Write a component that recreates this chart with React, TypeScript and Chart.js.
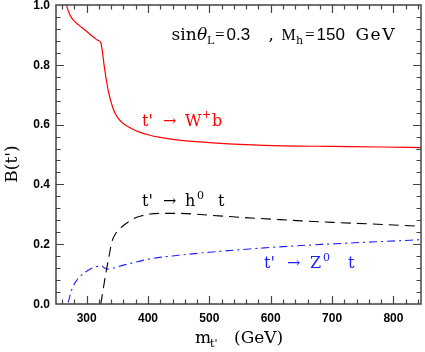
import { useEffect, useRef } from 'react';
import { Chart, registerables } from 'chart.js';

Chart.register(...registerables);

// t' -> W+ b
const massWb = [267, 271, 276, 283, 292, 302, 312, 318, 323, 329, 335, 343, 350, 360, 372, 386, 400, 420, 450, 500, 560, 620, 700, 780, 845];
const brWb = [1.0, 0.975, 0.955, 0.94, 0.925, 0.908, 0.891, 0.882, 0.874, 0.79, 0.715, 0.654, 0.625, 0.603, 0.588, 0.575, 0.566, 0.557, 0.548, 0.54, 0.533, 0.529, 0.527, 0.525, 0.523];

// t' -> h0 t
const massHt = [323, 327, 331, 336, 341, 347, 354, 365, 376, 390, 403, 420, 450, 500, 550, 600, 650, 700, 760, 845];
const brHt = [0.0, 0.05, 0.1, 0.155, 0.207, 0.235, 0.252, 0.27, 0.285, 0.295, 0.301, 0.303, 0.303, 0.297, 0.29, 0.284, 0.278, 0.273, 0.268, 0.26];

// t' -> Z0 t
const massZt = [270, 273, 277, 283, 290, 298, 307, 316, 324, 328, 333, 340, 360, 380, 403, 450, 500, 565, 620, 700, 770, 845];
const brZt = [0.005, 0.03, 0.055, 0.077, 0.094, 0.107, 0.118, 0.125, 0.128, 0.122, 0.117, 0.118, 0.13, 0.14, 0.151, 0.163, 0.173, 0.184, 0.192, 0.201, 0.208, 0.215];

const xTickValues = [300, 400, 500, 600, 700, 800];
const yTickValues = [0, 0.2, 0.4, 0.6, 0.8, 1.0];
const X_MIN = 250;
const X_MAX = 845;
const Y_MIN = 0;
const Y_MAX = 1;
const X_MINOR_STEP = 20;
const Y_MINOR_STEP = 0.04;

const SERIF = '"DejaVu Serif", "Liberation Serif", serif';
const TIMES = '"Liberation Serif", serif';
const SANS = '"Liberation Sans", Arial, sans-serif';

// text pieces placed at explicit offsets (x offset from start, font, dy)
type Piece = { t: string; dx: number; f: string; dy?: number; ls?: string };

function drawPieces(ctx: CanvasRenderingContext2D, pieces: Piece[], x: number, y: number, color: string) {
  ctx.save();
  ctx.fillStyle = color;
  ctx.textBaseline = 'alphabetic';
  ctx.textAlign = 'left';
  for (const p of pieces) {
    ctx.font = p.f;
    (ctx as any).letterSpacing = p.ls || '0px';
    ctx.fillText(p.t, x + p.dx, y + (p.dy || 0));
  }
  (ctx as any).letterSpacing = '0px';
  ctx.restore();
}

const framePlugin = {
  id: 'frameTicks',
  afterDraw(chart: any) {
    const ctx: CanvasRenderingContext2D = chart.ctx;
    const xs = chart.scales.x;
    const ys = chart.scales.y;
    const { left, right, top, bottom } = chart.chartArea;
    ctx.save();
    ctx.strokeStyle = '#444';
    ctx.lineWidth = 1.5;
    ctx.strokeRect(left, top, right - left, bottom - top);

    const MAJ = 8;
    const MIN = 4.5;
    ctx.lineWidth = 1.2;
    ctx.beginPath();
    for (let v = 260; v <= X_MAX; v += X_MINOR_STEP) {
      const px = Math.round(xs.getPixelForValue(v)) + 0.5;
      const len = xTickValues.includes(v) ? MAJ : MIN;
      ctx.moveTo(px, bottom);
      ctx.lineTo(px, bottom - len);
      ctx.moveTo(px, top);
      ctx.lineTo(px, top + len);
    }
    for (let i = 1; i * Y_MINOR_STEP < Y_MAX - 1e-6; i++) {
      const v = i * Y_MINOR_STEP;
      const py = Math.round(ys.getPixelForValue(v)) + 0.5;
      const isMaj = yTickValues.some((t) => Math.abs(t - v) < 1e-6);
      const len = isMaj ? MAJ : MIN;
      ctx.moveTo(left, py);
      ctx.lineTo(left + len, py);
      ctx.moveTo(right, py);
      ctx.lineTo(right - len, py);
    }
    ctx.stroke();

    // tick labels
    ctx.fillStyle = '#000';
    ctx.font = `bold 12px ${SANS}`;
    ctx.textAlign = 'center';
    ctx.textBaseline = 'alphabetic';
    for (const v of xTickValues) {
      ctx.fillText(String(v), xs.getPixelForValue(v), 322);
    }
    ctx.textAlign = 'right';
    ctx.textBaseline = 'middle';
    for (const v of yTickValues) {
      ctx.fillText(v.toFixed(1), 50, ys.getPixelForValue(v) + 0.5);
    }

    // x axis title
    drawPieces(ctx, [
      { t: 'm', dx: 0, f: `17px ${SERIF}` },
      { t: "t'", dx: 15, f: `11px ${SERIF}`, dy: 4 },
      { t: '(GeV)', dx: 39, f: `17px ${SERIF}` },
    ], 195, 343, '#000');

    // y axis title
    ctx.save();
    ctx.translate(17, 164);
    ctx.rotate(-Math.PI / 2);
    ctx.font = `17px ${SERIF}`;
    ctx.textAlign = 'center';
    ctx.textBaseline = 'alphabetic';
    ctx.fillStyle = '#000';
    ctx.fillText("B(t')", 0, 0);
    ctx.restore();

    // header annotation
    const S = `17px ${SERIF}`;
    const T = `17px ${TIMES}`;
    const N = `17px ${SANS}`;
    const sub = `11px ${SERIF}`;
    drawPieces(ctx, [
      { t: 'sin', dx: 0, f: S },
      { t: '\u03B8', dx: 25.5, f: `italic ${S}` },
      { t: 'L', dx: 35.5, f: sub, dy: 4 },
      { t: '=', dx: 43.5, f: T },
      { t: '0.3', dx: 55, f: N },
      { t: ',', dx: 97, f: S },
      { t: 'M', dx: 110, f: `16px ${TIMES}` },
      { t: 'h', dx: 124.5, f: sub, dy: 4 },
      { t: '=', dx: 133.5, f: T },
      { t: '150', dx: 145, f: N },
      { t: 'GeV', dx: 184, f: S, ls: '1.5px' },
    ], 171.5, 40, '#000');

    // curve labels
    const lf = `16px ${SERIF}`;
    const sf = `11px ${SERIF}`;
    drawPieces(ctx, [
      { t: "t'", dx: 0, f: lf },
      { t: '\u2192', dx: 21, f: lf },
      { t: 'W', dx: 43, f: lf },
      { t: '+', dx: 60, f: sf, dy: -8 },
      { t: 'b', dx: 70, f: lf },
    ], 142, 126, '#ff0000');
    drawPieces(ctx, [
      { t: "t'", dx: 0, f: lf },
      { t: '\u2192', dx: 21, f: lf },
      { t: 'h', dx: 43, f: lf },
      { t: '0', dx: 55, f: sf, dy: -7 },
      { t: 't', dx: 76, f: lf },
    ], 142, 205.5, '#000');
    drawPieces(ctx, [
      { t: "t'", dx: 0, f: lf },
      { t: '\u2192', dx: 23, f: lf },
      { t: 'Z', dx: 46, f: lf },
      { t: '0', dx: 59, f: sf, dy: -7 },
      { t: 't', dx: 84, f: lf },
    ], 264, 268, '#2020ff');

    ctx.restore();
  },
};

function toPoints(xs: number[], ys: number[]) {
  return xs.map((x, i) => ({ x, y: ys[i] }));
}

export default function App() {
  const ref = useRef<HTMLCanvasElement | null>(null);
  useEffect(() => {
    if (!ref.current) return;
    const chart = new Chart(ref.current, {
      type: 'line',
      data: {
        datasets: [
          {
            label: "t' -> W+ b",
            data: toPoints(massWb, brWb),
            borderColor: '#ff0000',
            borderWidth: 1.2,
            pointRadius: 0,
            cubicInterpolationMode: 'monotone',
            fill: false,
          },
          {
            label: "t' -> h0 t",
            data: toPoints(massHt, brHt),
            borderColor: '#000000',
            borderWidth: 1.1,
            borderDash: [10, 6],
            pointRadius: 0,
            cubicInterpolationMode: 'monotone',
            fill: false,
          },
          {
            label: "t' -> Z0 t",
            data: toPoints(massZt, brZt),
            borderColor: '#2020ff',
            borderWidth: 1.1,
            borderDash: [8, 4, 2, 4],
            pointRadius: 0,
            cubicInterpolationMode: 'monotone',
            fill: false,
          },
        ],
      },
      options: {
        animation: false,
        responsive: false,
        layout: { padding: { left: 56, top: 5, right: 4, bottom: 48 } },
        plugins: { legend: { display: false }, tooltip: { enabled: false } },
        scales: {
          x: { type: 'linear', min: X_MIN, max: X_MAX, display: false },
          y: { type: 'linear', min: Y_MIN, max: Y_MAX, display: false },
        },
      },
      plugins: [framePlugin],
    });
    return () => chart.destroy();
  }, []);
  return (
    <div style={{ position: 'fixed', left: 0, top: 0, width: 425, height: 352, background: '#fff' }}>
      <canvas ref={ref} width={425} height={352} style={{ display: 'block' }} />
    </div>
  );
}
